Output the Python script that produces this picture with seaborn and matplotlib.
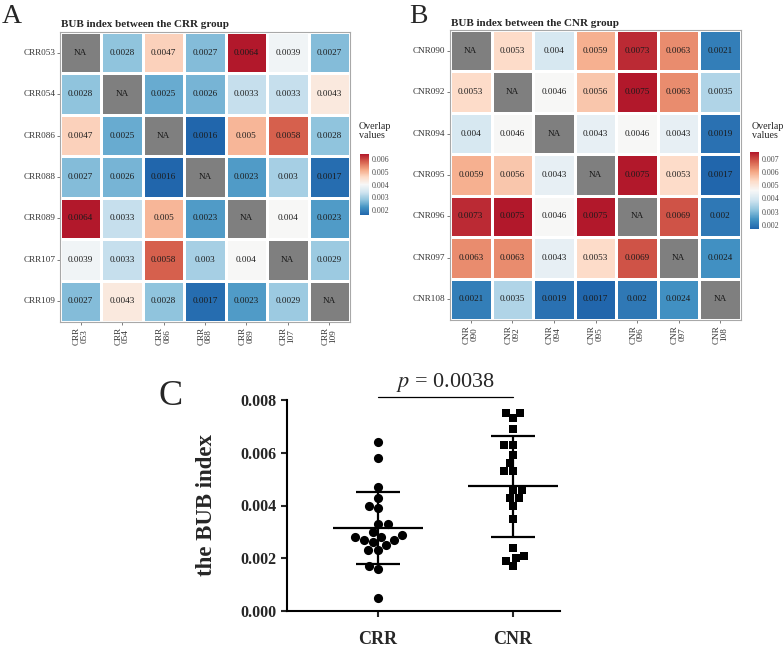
import numpy as np
import pandas as pd
import matplotlib
matplotlib.use("Agg")
import matplotlib.pyplot as plt
from matplotlib.colors import ListedColormap, LinearSegmentedColormap
import seaborn as sns

# BUB index matrices (None = NA on the diagonal)
crr_ids = ["053", "054", "086", "088", "089", "107", "109"]
crr_matrix = [
    [None, 0.0028, 0.0047, 0.0027, 0.0064, 0.0039, 0.0027],
    [0.0028, None, 0.0025, 0.0026, 0.0033, 0.0033, 0.0043],
    [0.0047, 0.0025, None, 0.0016, 0.0050, 0.0058, 0.0028],
    [0.0027, 0.0026, 0.0016, None, 0.0023, 0.0030, 0.0017],
    [0.0064, 0.0033, 0.0050, 0.0023, None, 0.0040, 0.0023],
    [0.0039, 0.0033, 0.0058, 0.0030, 0.0040, None, 0.0029],
    [0.0027, 0.0043, 0.0028, 0.0017, 0.0023, 0.0029, None],
]
crr_cbar_ticks = [0.002, 0.003, 0.004, 0.005, 0.006]

cnr_ids = ["090", "092", "094", "095", "096", "097", "108"]
cnr_matrix = [
    [None, 0.0053, 0.0040, 0.0059, 0.0073, 0.0063, 0.0021],
    [0.0053, None, 0.0046, 0.0056, 0.0075, 0.0063, 0.0035],
    [0.0040, 0.0046, None, 0.0043, 0.0046, 0.0043, 0.0019],
    [0.0059, 0.0056, 0.0043, None, 0.0075, 0.0053, 0.0017],
    [0.0073, 0.0075, 0.0046, 0.0075, None, 0.0069, 0.0020],
    [0.0063, 0.0063, 0.0043, 0.0053, 0.0069, None, 0.0024],
    [0.0021, 0.0035, 0.0019, 0.0017, 0.0020, 0.0024, None],
]
cnr_cbar_ticks = [0.002, 0.003, 0.004, 0.005, 0.006, 0.007]

# values shown in the dot plot (panel C)
crr_bub = [0.0028, 0.0047, 0.0027, 0.0064, 0.0039, 0.0027, 0.0025, 0.0026,
           0.0033, 0.0033, 0.0043, 0.0016, 0.0005, 0.0058, 0.0028, 0.0023,
           0.0030, 0.0017, 0.0040, 0.0023, 0.0029]
cnr_bub = [0.0053, 0.0040, 0.0059, 0.0073, 0.0063, 0.0021, 0.0046, 0.0056,
           0.0075, 0.0063, 0.0035, 0.0043, 0.0046, 0.0043, 0.0019, 0.0075,
           0.0053, 0.0017, 0.0069, 0.0020, 0.0024]
groups = ["CRR", "CNR"]
bub_ticks = [0.000, 0.002, 0.004, 0.006, 0.008]
p_value = "0.0038"

sns.set_style("white")
plt.rcParams["font.family"] = ["Liberation Serif", "DejaVu Serif"]
plt.rcParams["mathtext.fontset"] = "stix"

# brewer RdBu (9 classes), blue -> red
bub_cmap = LinearSegmentedColormap.from_list(
    "bub", ["#2166ac", "#4393c3", "#92c5de", "#d1e5f0", "#f7f7f7",
            "#fddbc7", "#f4a582", "#d6604d", "#b2182b"])

W, H = 784, 650
fig = plt.figure(figsize=(W / 100, H / 100), dpi=100)


def box(x0, y0, x1, y1):
    # pixel box -> figure fraction rect
    return [x0 / W, 1 - y1 / H, (x1 - x0) / W, (y1 - y0) / H]


def heatmap_panel(ax, cax, prefix, ids, matrix, ticks):
    df = pd.DataFrame(matrix, index=[prefix + i for i in ids],
                      columns=[prefix + "\n" + i for i in ids], dtype=float)
    na = df.isna()
    labels = df.map(lambda v: "NA" if np.isnan(v) else f"{v:g}")
    kws = dict(size=6.6, color="#1a1a1a")
    sns.heatmap(df, cmap=bub_cmap, vmin=np.nanmin(df.values), vmax=np.nanmax(df.values),
                annot=labels, fmt="", annot_kws=kws, linewidths=0.8, linecolor="white",
                cbar_ax=cax, ax=ax)
    sns.heatmap(na.astype(float), mask=~na, cmap=ListedColormap(["#7f7f7f"]),
                annot=labels, fmt="", annot_kws=kws, linewidths=0.8, linecolor="white",
                cbar=False, ax=ax)
    ax.set_xlabel("")
    ax.set_ylabel("")
    ax.tick_params(axis="both", length=2.5, width=0.6, color="#666666", pad=1,
                   labelsize=6.6, labelcolor="#333333", bottom=True, left=True)
    plt.setp(ax.get_xticklabels(), rotation=90, linespacing=0.95)
    plt.setp(ax.get_yticklabels(), rotation=0)
    for sp in ax.spines.values():
        sp.set_visible(True)
        sp.set_color("#a8a8a8")
        sp.set_linewidth(0.8)
    cbar = ax.collections[0].colorbar
    cbar.set_ticks(ticks)
    cbar.set_ticklabels([f"{t:.3f}" for t in ticks])
    cbar.outline.set_visible(False)
    cax.tick_params(length=2, width=0.6, color="white", direction="in",
                    labelsize=5.8, labelcolor="#4d4d4d", pad=2)


# Panel A
ax_a = fig.add_axes(box(60, 32, 350, 322))
cax_a = fig.add_axes(box(360, 154, 369, 215))
heatmap_panel(ax_a, cax_a, "CRR", crr_ids, crr_matrix, crr_cbar_ticks)
fig.text(2 / W, 1 - 23 / H, "A", fontsize=20, va="baseline")
fig.text(61 / W, 1 - 27 / H, "BUB index between the CRR group", fontsize=8,
         fontweight="bold", va="baseline")
fig.text(359 / W, 1 - 122 / H, "Overlap\nvalues", fontsize=7.2, va="top",
         linespacing=0.95)

# Panel B
ax_b = fig.add_axes(box(450, 30, 741, 320))
cax_b = fig.add_axes(box(750, 152, 759, 229))
heatmap_panel(ax_b, cax_b, "CNR", cnr_ids, cnr_matrix, cnr_cbar_ticks)
fig.text(409 / W, 1 - 23 / H, "B", fontsize=20, va="baseline")
fig.text(451 / W, 1 - 26 / H, "BUB index between the CNR group", fontsize=8,
         fontweight="bold", va="baseline")
fig.text(752 / W, 1 - 122 / H, "Overlap\nvalues", fontsize=7.2, va="top",
         linespacing=0.95)

# Panel C
dots = pd.DataFrame({"group": ["CRR"] * len(crr_bub) + ["CNR"] * len(cnr_bub),
                     "bub": crr_bub + cnr_bub})
ax_c = fig.add_axes(box(287, 400, 560, 611))
for g, mk, sz in zip(groups, ["o", "s"], [6.6, 6.0]):
    sns.swarmplot(data=dots[dots["group"] == g], x="group", y="bub", order=groups,
                  color="black", marker=mk, size=sz, linewidth=0, ax=ax_c)
for i, g in enumerate(groups):
    vals = dots.loc[dots["group"] == g, "bub"].to_numpy()
    m, s = vals.mean(), vals.std(ddof=1)
    ax_c.hlines(m, i - 0.335, i + 0.335, color="black", lw=1.6, zorder=3)
    ax_c.hlines([m - s, m + s], i - 0.165, i + 0.165, color="black", lw=1.6, zorder=3)
    ax_c.vlines(i, m - s, m + s, color="black", lw=1.6, zorder=3)

ax_c.set_xlim(-0.674, 1.348)
ax_c.set_ylim(bub_ticks[0], bub_ticks[-1])
ax_c.set_yticks(bub_ticks)
ax_c.set_yticklabels([f"{t:.3f}" for t in bub_ticks], fontweight="bold", fontsize=11.5)
ax_c.set_xticks(range(len(groups)))
ax_c.set_xticklabels(groups, fontweight="bold", fontsize=13)
ax_c.set_xlabel("")
ax_c.set_ylabel("the BUB index", fontweight="bold", fontsize=16.5)
ax_c.yaxis.set_label_coords(-(287 - 217) / (560 - 287), 0.5)
sns.despine(ax=ax_c)
for sp in ["left", "bottom"]:
    ax_c.spines[sp].set_linewidth(1.5)
    ax_c.spines[sp].set_color("black")
ax_c.tick_params(axis="y", length=4, width=1.5, pad=3.5, left=True)
ax_c.tick_params(axis="x", length=4.5, width=1.5, pad=10, bottom=True)

# significance bracket
top = bub_ticks[-1]
ax_c.plot([0, 1], [top * 1.014, top * 1.014], color="black", lw=0.9, clip_on=False)
ax_c.text(0.5, top * 1.03, f"$p$ = {p_value}", ha="center", va="bottom",
          fontsize=16, clip_on=False)
fig.text(158 / W, 1 - 405 / H, "C", fontsize=26, va="baseline")

fig.savefig("out.png", dpi=100)
